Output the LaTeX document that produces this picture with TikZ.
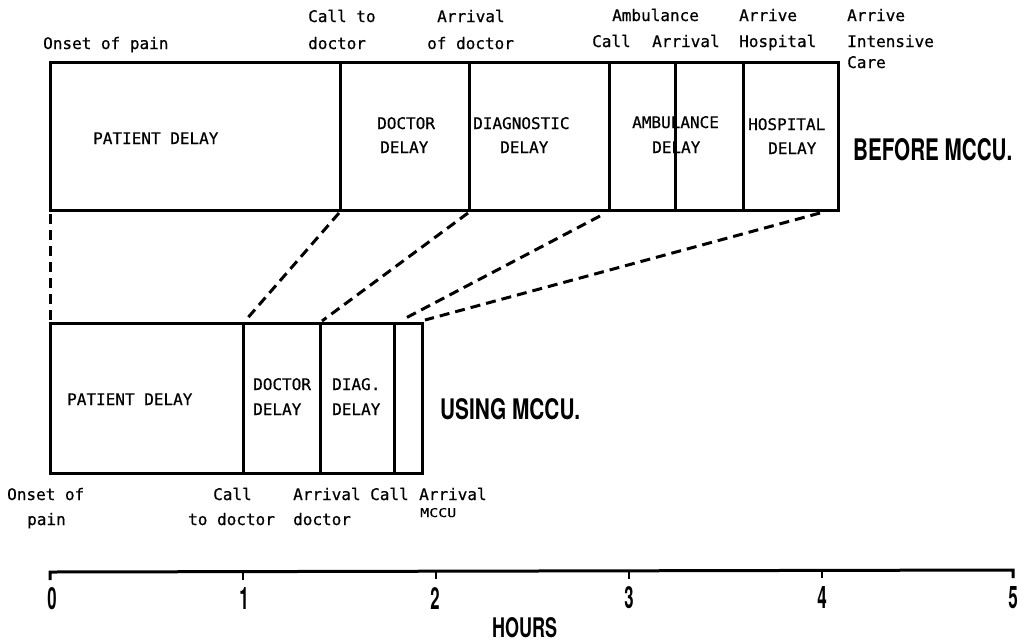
\documentclass[tikz,border=0pt]{standalone}
\usepackage{fontspec}
\usepackage{graphicx}
\newfontfamily\monof{DejaVu Sans Mono}[FakeBold=0.6]
\newfontfamily\heavyf{TeX Gyre Heros}
\newcommand\bigt[3]{\resizebox{#1}{#2}{\heavyf\bfseries #3}}
\newcommand\numt[1]{\resizebox{!}{22pt}{\scalebox{0.55}[1]{\heavyf\bfseries #1}}}
\begin{document}
\begin{tikzpicture}[x=1pt,y=-1pt,
  boxline/.style={line width=3pt},
  conn/.style={line width=3pt, dash pattern=on 10pt off 6pt},
  lbl/.style={font=\monof\fontsize{16}{16}\selectfont, inner sep=0pt, anchor=base west},
  big/.style={inner sep=0pt, anchor=base west},
  num/.style={inner sep=0pt, anchor=base}]
\useasboundingbox (0,0) rectangle (1024,641);

% ---- coordinates: top box (before MCCU)
\coordinate (T0t) at (50,62);   \coordinate (T0b) at (50,210);
\coordinate (T1t) at (340,62);  \coordinate (T1b) at (340,210);
\coordinate (T2t) at (469,62);  \coordinate (T2b) at (469,210);
\coordinate (T3t) at (609,62);  \coordinate (T3b) at (609,210);
\coordinate (T4t) at (675,62);  \coordinate (T4b) at (675,210);
\coordinate (T5t) at (743,62);  \coordinate (T5b) at (743,210);
\coordinate (T6t) at (838,62);  \coordinate (T6b) at (838,210);
% ---- bottom box (using MCCU)
\coordinate (B0t) at (50,323);  \coordinate (B0b) at (50,473);
\coordinate (B1t) at (243,323); \coordinate (B1b) at (243,473);
\coordinate (B2t) at (320,323); \coordinate (B2b) at (320,473);
\coordinate (B3t) at (394,323); \coordinate (B3b) at (394,473);
\coordinate (B4t) at (422,323); \coordinate (B4b) at (422,473);
% ---- connector ends
\coordinate (c1a) at (50,214);  \coordinate (c1b) at (50,320);
\coordinate (c2a) at (339,213); \coordinate (c2b) at (245,321);
\coordinate (c3a) at (468,213); \coordinate (c3b) at (322,321);
\coordinate (c4a) at (600,216); \coordinate (c4b) at (402,320);
\coordinate (c5a) at (820,213); \coordinate (c5b) at (425,320);
% ---- axis
\coordinate (A0) at (50,572);  \coordinate (A0d) at (50,580);
\coordinate (A1) at (243,572); \coordinate (A1d) at (243,580);
\coordinate (A2) at (436,571); \coordinate (A2d) at (436,579);
\coordinate (A3) at (629,571); \coordinate (A3d) at (629,579);
\coordinate (A4) at (822,570); \coordinate (A4d) at (822,578);
\coordinate (A5) at (1013,570);\coordinate (A5d) at (1013,578);

% ---- boxes
\draw[boxline] (T0t) rectangle (T6b);
\foreach \i in {1,...,5} \draw[boxline] (T\i t) -- (T\i b);
\draw[boxline] (B0t) rectangle (B4b);
\foreach \i in {1,2,3} \draw[boxline] (B\i t) -- (B\i b);

% ---- dashed connectors
\draw[conn] (c1a) -- (c1b);
\draw[conn] (c2a) -- (c2b);
\draw[conn] (c3a) -- (c3b);
\draw[conn] (c4a) -- (c4b);
\draw[conn] (c5a) -- (c5b);

% ---- axis
\draw[line width=3pt] (A0d) -- (A0) -- (A5) -- (A5d);
\foreach \i in {1,...,4} \draw[line width=2.8pt] (A\i) -- (A\i d);

% ---- top labels
\node[lbl] (l1) at (43,49) {Onset of pain};
\node[lbl] (l2) at (308,22) {Call to};
\node[lbl] (l3) at (308,49) {doctor};
\node[lbl] (l4) at (437,22) {Arrival};
\node[lbl] (l5) at (427,49) {of doctor};
\node[lbl] (l6) at (612,21) {Ambulance};
\node[lbl] (l7) at (592,47) {Call};
\node[lbl] (l8) at (652,47) {Arrival};
\node[lbl] (l9) at (739,21) {Arrive};
\node[lbl] (l10) at (739,47) {Hospital};
\node[lbl] (l11) at (847,21) {Arrive};
\node[lbl] (l12) at (847,47) {Intensive};
\node[lbl] (l13) at (847,68) {Care};

% ---- top box labels
\node[lbl] (p1) at (93,144) {PATIENT DELAY};
\node[lbl] (p2) at (377,129) {DOCTOR};
\node[lbl] (p3) at (380,153) {DELAY};
\node[lbl] (p4) at (473,129) {DIAGNOSTIC};
\node[lbl] (p5) at (500,153) {DELAY};
\node[lbl] (p6) at (632,128) {AMBULANCE};
\node[lbl] (p7) at (652,153) {DELAY};
\node[lbl] (p8) at (748,130) {HOSPITAL};
\node[lbl] (p9) at (768,154) {DELAY};

% ---- bottom box labels
\node[lbl] (q1) at (67,405) {PATIENT DELAY};
\node[lbl] (q2) at (253,390) {DOCTOR};
\node[lbl] (q3) at (253,415) {DELAY};
\node[lbl] (q4) at (332,390) {DIAG.};
\node[lbl] (q5) at (332,415) {DELAY};

% ---- bottom labels
\node[lbl] (r1) at (7,500) {Onset of};
\node[lbl] (r2) at (27,525) {pain};
\node[lbl] (r3) at (213,500) {Call};
\node[lbl] (r4) at (188,525) {to doctor};
\node[lbl] (r5) at (293,500) {Arrival};
\node[lbl] (r6) at (293,525) {doctor};
\node[lbl] (r7) at (370,500) {Call};
\node[lbl] (r8) at (419,500) {Arrival};
\node[big] (r9) at (420,517) {\resizebox{36pt}{9pt}{\monof MCCU}};

% ---- big titles
\node[big] (before) at (853,160) {\bigt{159pt}{22pt}{BEFORE MCCU.}};
\node[big] (using) at (440,419) {\bigt{140pt}{21pt}{USING MCCU.}};

% ---- axis numbers
\node[num] (n0) at (52,609) {\numt{0}};
\node[num] (n1) at (244,609) {\numt{1}};
\node[num] (n2) at (435,609) {\numt{2}};
\node[num] (n3) at (629,608) {\numt{3}};
\node[num] (n4) at (822,608) {\numt{4}};
\node[num] (n5) at (1013,608) {\numt{5}};
\node[big] (hours) at (492,637) {\bigt{65pt}{20pt}{HOURS}};
\end{tikzpicture}
\end{document}
